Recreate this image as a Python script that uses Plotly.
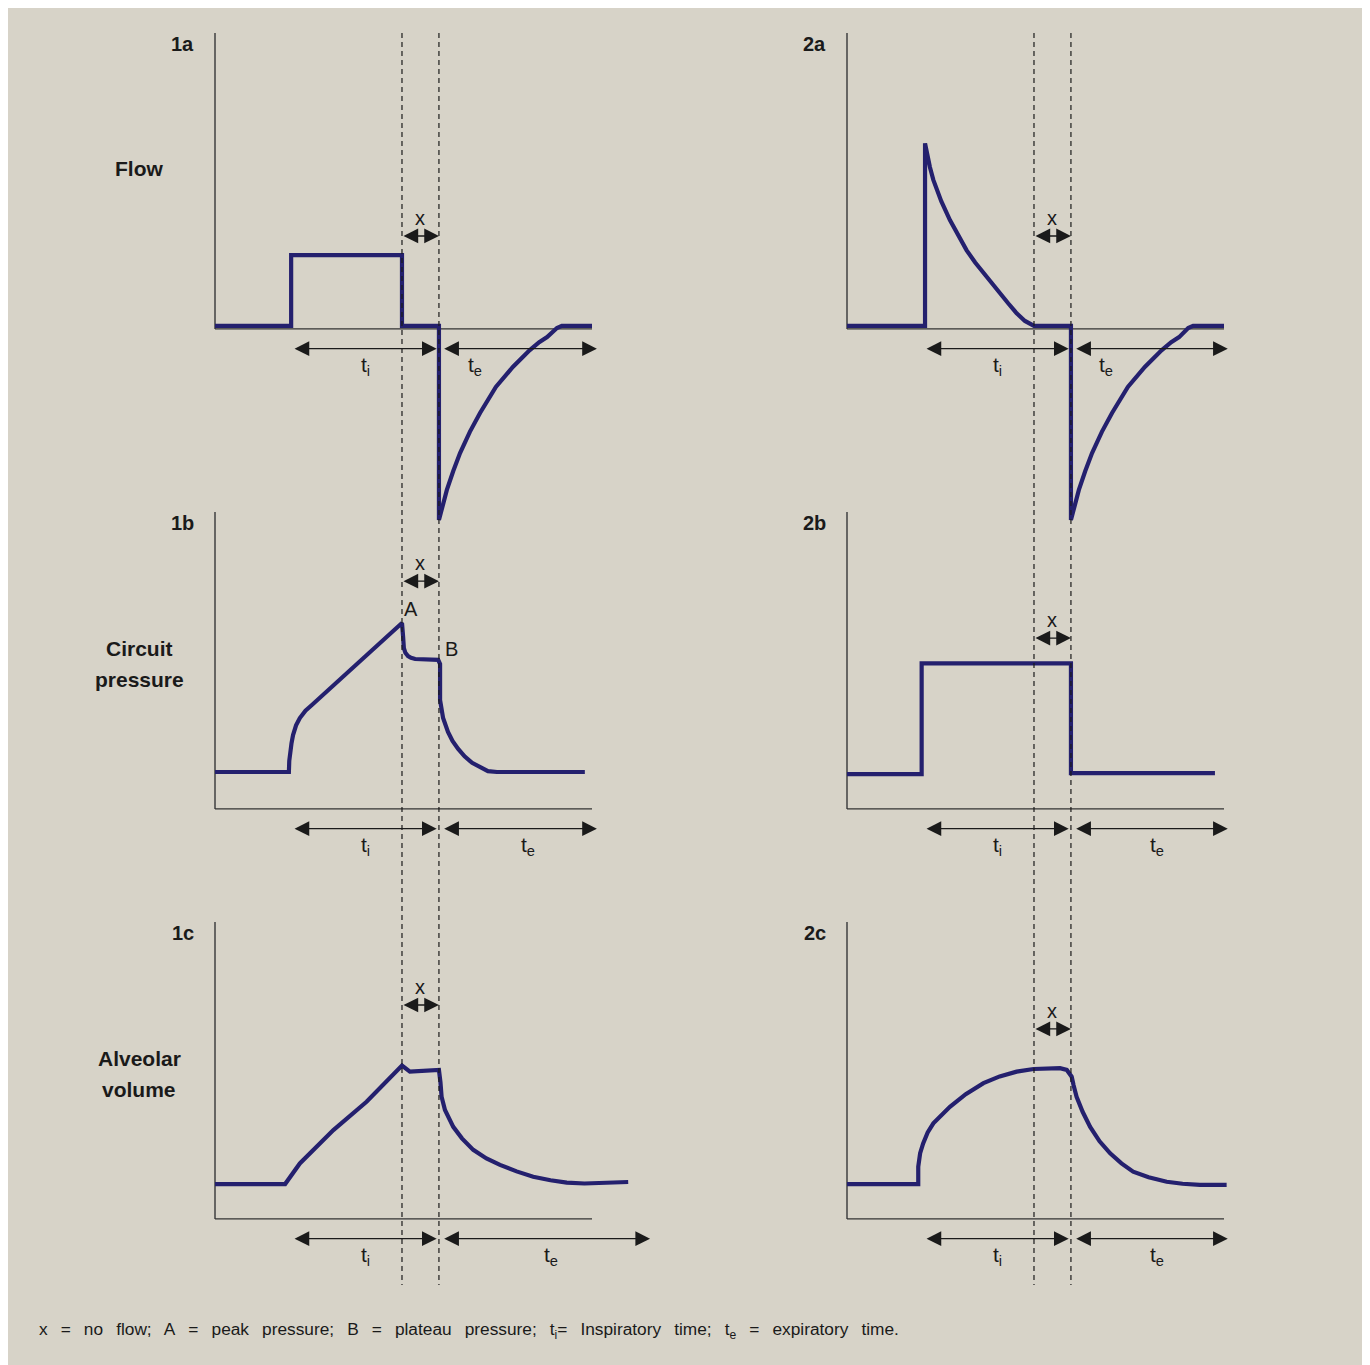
import plotly.graph_objects as go

# ---------------- data (time units, value units) ----------------
# Column 1: volume-controlled (constant flow); Column 2: pressure-controlled
flow1_t = [0, 2.02, 2.02, 4.96, 4.96, 5.94, 5.94, 6.05, 6.15, 6.32, 6.50, 6.76, 7.03, 7.45, 7.90,
           8.35, 8.60, 8.81, 8.95, 9.07, 9.20, 10.0]
flow1_v = [0.07, 0.07, 2.47, 2.47, 0.07, 0.07, -6.51, -5.98, -5.49, -4.85, -4.24, -3.52, -2.88,
           -2.00, -1.32, -0.75, -0.48, -0.31, -0.15, 0.0, 0.07, 0.07]

flow2_t = [0, 2.07, 2.07, 2.13, 2.20, 2.29, 2.50, 2.73, 2.95, 3.17, 3.40, 3.62, 3.84, 4.06, 4.28,
           4.50, 4.72, 4.96, 5.94, 5.94, 6.05, 6.15, 6.32, 6.50, 6.76, 7.03, 7.45, 7.90, 8.35,
           8.60, 8.81, 8.95, 9.05, 9.18, 10.0]
flow2_v = [0.07, 0.07, 6.26, 5.85, 5.45, 5.02, 4.30, 3.66, 3.12, 2.64, 2.22, 1.86, 1.50, 1.18,
           0.83, 0.50, 0.24, 0.07, 0.07, -6.51, -5.98, -5.49, -4.85, -4.24, -3.52, -2.88, -2.00,
           -1.32, -0.75, -0.48, -0.31, -0.15, 0.0, 0.07, 0.07]

pres1_t = [0, 1.96, 1.97, 1.99, 2.03, 2.07, 2.15, 2.25, 2.40, 2.57, 4.96, 4.99, 5.01, 5.05, 5.12,
           5.20, 5.31, 5.92, 5.97, 5.97, 6.00, 6.05, 6.18, 6.30, 6.45, 6.62, 6.82, 7.03, 7.24,
           7.48, 9.81]
pres1_v = [1.22, 1.22, 1.60, 1.90, 2.20, 2.47, 2.80, 3.05, 3.30, 3.49, 6.27, 5.80, 5.42, 5.26,
           5.15, 5.09, 5.05, 5.02, 4.88, 3.66, 3.35, 3.05, 2.58, 2.27, 2.00, 1.75, 1.53, 1.37,
           1.25, 1.22, 1.22]

pres2_t = [0, 1.98, 1.98, 5.94, 5.94, 9.76]
pres2_v = [1.15, 1.15, 4.90, 4.90, 1.18, 1.18]

vol1_t = [0, 1.86, 2.25, 3.14, 4.02, 4.96, 5.17, 5.88, 5.94, 5.98, 6.01, 6.10, 6.20, 6.32, 6.55,
          6.85, 7.20, 7.56, 8.00, 8.44, 8.90, 9.33, 9.80, 10.21, 10.96]
vol1_v = [1.15, 1.15, 1.85, 2.98, 3.94, 5.17, 4.96, 5.04, 5.02, 4.60, 4.11, 3.66, 3.36, 3.09, 2.70,
          2.31, 2.02, 1.80, 1.58, 1.40, 1.28, 1.20, 1.17, 1.18, 1.22]

vol2_t = [0, 1.89, 1.89, 1.94, 2.02, 2.14, 2.29, 2.50, 2.73, 3.15, 3.62, 4.05, 4.50, 4.95, 5.38,
          5.65, 5.83, 5.96, 6.01, 6.09, 6.25, 6.45, 6.70, 6.98, 7.28, 7.59, 8.00, 8.48, 8.90,
          9.36, 10.07]
vol2_v = [1.15, 1.15, 1.74, 2.20, 2.53, 2.90, 3.21, 3.50, 3.77, 4.20, 4.57, 4.80, 4.96, 5.05, 5.09,
          5.08, 5.02, 4.79, 4.50, 4.11, 3.60, 3.09, 2.60, 2.19, 1.85, 1.57, 1.38, 1.23, 1.16,
          1.12, 1.12]

panel_ids = ["1a", "1b", "1c", "2a", "2b", "2c"]
row_titles = [["Flow"], ["Circuit", "pressure"], ["Alveolar", "volume"]]

# phase markers (time units)
flow_stop = 4.96      # end of inspiratory flow
exp_start = 5.94      # start of expiration
ti_start = 2.07
ti_end = 5.88
te_start = 6.04
te_end_col = [[10.13, 10.13, 11.54], [10.10, 10.10, 10.10]]
ti_label_t = [[4.0, 4.0, 4.0], [4.0, 4.0, 4.0]]
te_label_t = [[6.9, 8.3, 8.9], [6.87, 8.22, 8.22]]
x_arrow_v = [[3.12, 7.69, 7.22], [3.12, 5.76, 6.41]]

caption_words = ["x", "=", "no", "flow;", "A", "=", "peak", "pressure;", "B", "=", "plateau",
                 "pressure;", "t<sub>i</sub>=", "Inspiratory", "time;", "t<sub>e</sub>", "=",
                 "expiratory", "time."]

# ---------------- layout geometry (pixels, page coordinates) ----------------
W, H = 1370, 1365
OFF = 8          # page body margin
PX_T = 37.7      # px per time unit
PX_V = 29.5      # px per value unit
col_origin = [215, 847]
row_base = [328, 808, 1218]
t_range = [-0.5, 12.0]
v_ranges = [[-7.5, 10.5], [-3.0, 10.5], [-3.0, 10.5]]
axis_top_v = [10.0, 10.03, 10.03]

def px(x):
    return (x - OFF) / W

def py(y):
    return 1 - (y - OFF) / H

NAVY = "#24206e"
INK = "#1a1a1a"
AX = "#4a4a4a"
FONT = "Liberation Sans, Arial, Helvetica, sans-serif"

fig = go.Figure()
layout = dict(
    width=W, height=H, margin=dict(l=0, r=0, t=0, b=0),
    paper_bgcolor="#d7d3c8", plot_bgcolor="rgba(0,0,0,0)",
    showlegend=False, font=dict(family=FONT, color=INK),
)
shapes = []
annotations = []

series = [[(flow1_t, flow1_v), (pres1_t, pres1_v), (vol1_t, vol1_v)],
          [(flow2_t, flow2_v), (pres2_t, pres2_v), (vol2_t, vol2_v)]]

ARROW = dict(showarrow=True, arrowhead=2, startarrowhead=2, arrowside="end+start",
             arrowsize=2.1, startarrowsize=2.1, arrowwidth=1.4, arrowcolor=INK,
             standoff=0, startstandoff=0, text="")

idx = 0
for c in range(2):
    for r in range(3):
        idx += 1
        xa = "x" if idx == 1 else f"x{idx}"
        ya = "y" if idx == 1 else f"y{idx}"
        x0p = col_origin[c] + t_range[0] * PX_T
        x1p = col_origin[c] + t_range[1] * PX_T
        vr = v_ranges[r]
        ybot = row_base[r] - vr[0] * PX_V
        ytop = row_base[r] - vr[1] * PX_V
        layout["xaxis" if idx == 1 else f"xaxis{idx}"] = dict(
            domain=[px(x0p), px(x1p)], range=t_range, visible=False, anchor=ya, fixedrange=True)
        layout["yaxis" if idx == 1 else f"yaxis{idx}"] = dict(
            domain=[py(ybot), py(ytop)], range=vr, visible=False, anchor=xa, fixedrange=True)

        # axes lines
        shapes.append(dict(type="line", xref=xa, yref=ya, x0=0, x1=0, y0=-0.03, y1=axis_top_v[r],
                           line=dict(color=AX, width=1.6), layer="below"))
        shapes.append(dict(type="line", xref=xa, yref=ya, x0=0, x1=10.0, y0=-0.03, y1=-0.03,
                           line=dict(color="#333333", width=1.4), layer="below"))

        t, v = series[c][r]
        fig.add_trace(go.Scatter(x=t, y=v, mode="lines", xaxis=xa, yaxis=ya,
                                 line=dict(color=NAVY, width=4.2), hoverinfo="skip",
                                 cliponaxis=False))

        # ti / te arrows
        arr_v = -0.70
        for (a, b) in [(ti_start, ti_end), (te_start, te_end_col[c][r])]:
            annotations.append(dict(x=b, y=arr_v, ax=a, ay=arr_v, xref=xa, yref=ya,
                                    axref=xa, ayref=ya, **ARROW))
        annotations.append(dict(x=ti_label_t[c][r], y=-1.28, xref=xa, yref=ya,
                                text="t<sub>i</sub>", showarrow=False,
                                font=dict(size=21, color=INK), yanchor="middle"))
        annotations.append(dict(x=te_label_t[c][r], y=-1.28, xref=xa, yref=ya,
                                text="t<sub>e</sub>", showarrow=False,
                                font=dict(size=21, color=INK), yanchor="middle"))
        # x (no flow) arrow
        xv = x_arrow_v[c][r]
        annotations.append(dict(x=exp_start, y=xv, ax=flow_stop, ay=xv, xref=xa, yref=ya,
                                axref=xa, ayref=ya, **ARROW))
        annotations.append(dict(x=(flow_stop + exp_start) / 2, y=xv + 0.6, xref=xa, yref=ya,
                                text="x", showarrow=False, yanchor="middle",
                                font=dict(size=20, color=INK)))

        # panel id
        annotations.append(dict(x=px(col_origin[c] - 19), y=py([44, 523, 933][r]),
                                xref="paper", yref="paper",
                                text=f"<b>{panel_ids[c * 3 + r]}</b>", showarrow=False,
                                xanchor="right", yanchor="middle",
                                font=dict(size=20, color=INK)))

    # dashed phase lines
    xa_col = "x" if c == 0 else "x4"
    for tt in (flow_stop, exp_start):
        shapes.append(dict(type="line", xref=xa_col, yref="paper", x0=tt, x1=tt,
                           y0=py(33), y1=py(1285), line=dict(color=INK, width=1.2, dash="5px,4px")))

# A / B labels on panel 1b
annotations.append(dict(x=flow_stop + 0.25, y=6.75, xref="x2", yref="y2", text="A",
                        showarrow=False, xanchor="center", yanchor="middle",
                        font=dict(size=20, color=INK)))
annotations.append(dict(x=exp_start + 0.32, y=5.40, xref="x2", yref="y2", text="B",
                        showarrow=False, xanchor="center", yanchor="middle",
                        font=dict(size=20, color=INK)))

# row titles (one annotation per line for the wider line spacing)
title_first_y = [168, 648, 1058]
for r, lines in enumerate(row_titles):
    for k, line in enumerate(lines):
        annotations.append(dict(x=px(139), y=py(title_first_y[r] + 31 * k),
                                xref="paper", yref="paper",
                                text=f"<b>{line}</b>", showarrow=False, align="center",
                                xanchor="center", yanchor="middle",
                                font=dict(size=21, color=INK)))

# caption (wide word spacing as in the reference)
caption = "\u00a0\u2009 ".join(caption_words)
annotations.append(dict(x=px(37), y=py(1330), xref="paper", yref="paper", text=caption,
                        showarrow=False, xanchor="left", yanchor="middle",
                        font=dict(size=17.3, color=INK)))

layout["shapes"] = shapes
layout["annotations"] = annotations
fig.update_layout(**layout)
fig.write_html("out.html")
